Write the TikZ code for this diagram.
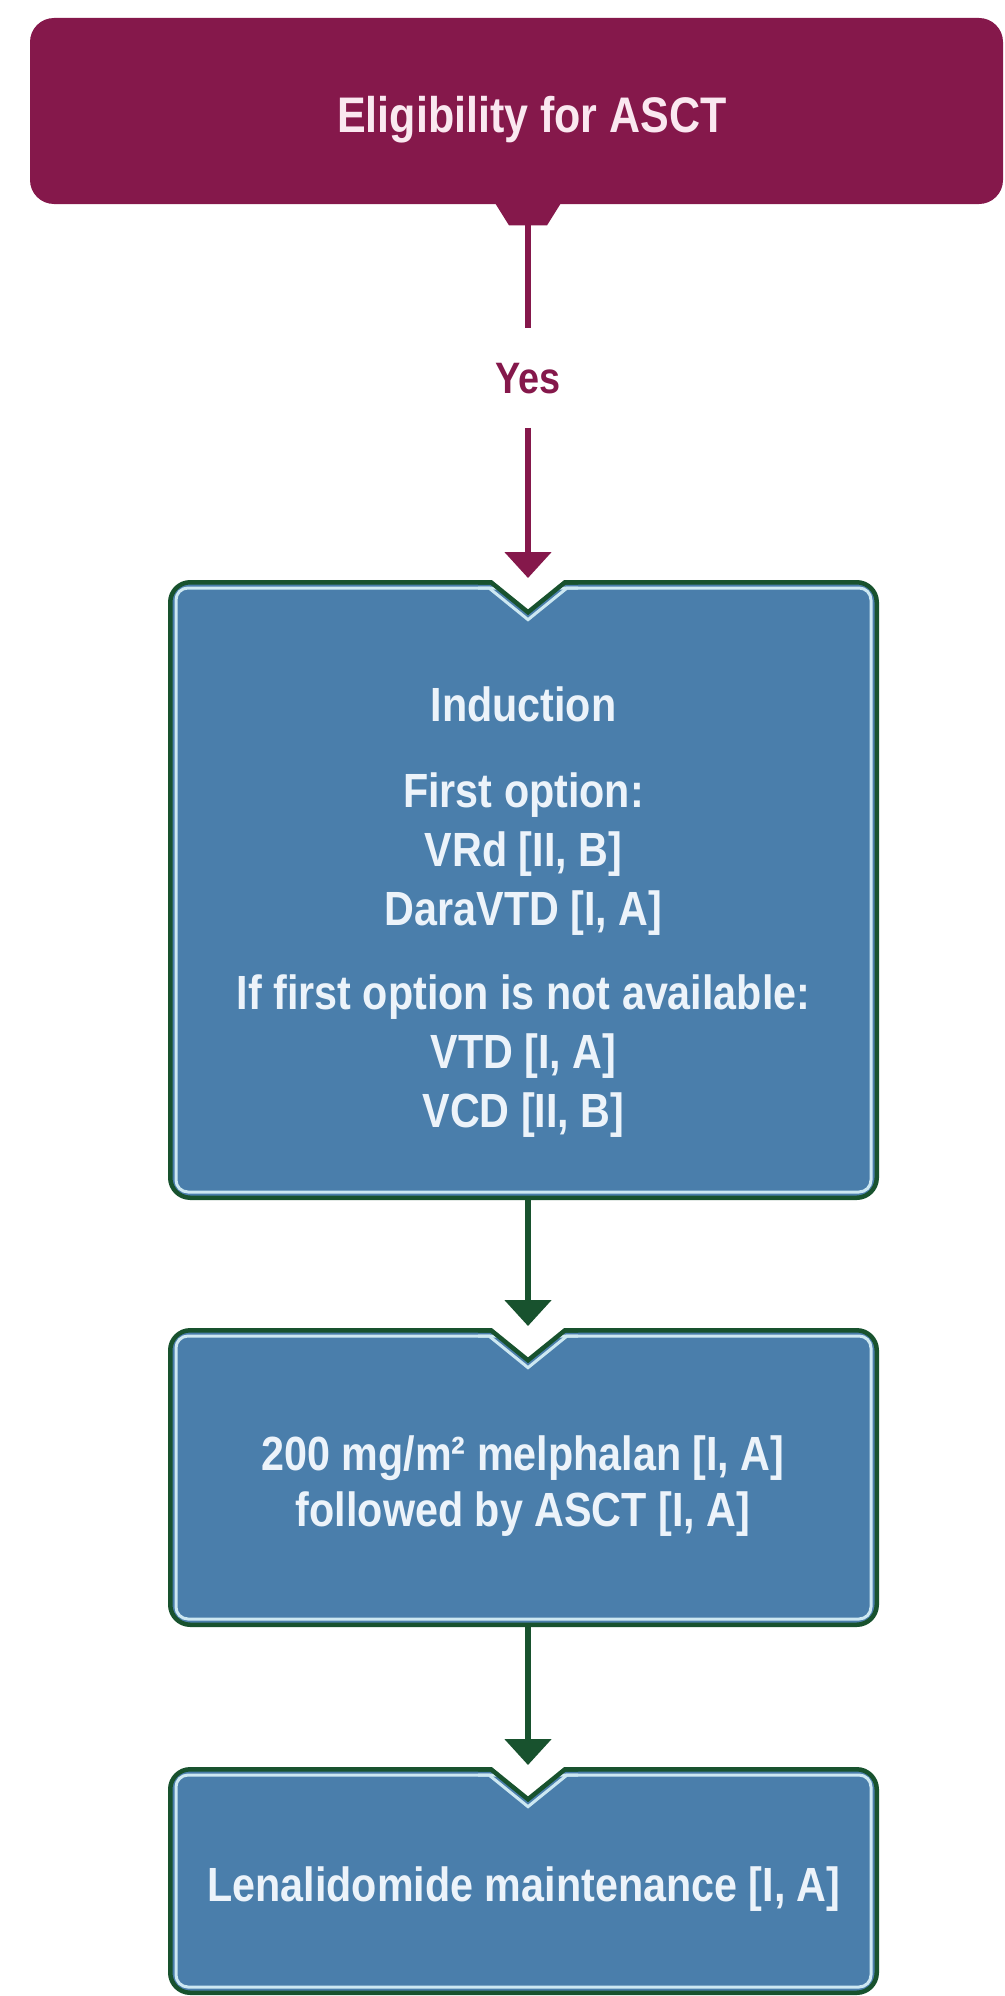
\documentclass[tikz,border=0pt]{standalone}
\usepackage{fontspec}
\newfontfamily\condfont{Liberation Sans}[FakeStretch=0.86]
\usetikzlibrary{arrows.meta}
\definecolor{mroon}{RGB}{133,24,75}
\definecolor{bblue}{RGB}{74,126,171}
\definecolor{bgreen}{RGB}{24,82,46}
\definecolor{ledge}{RGB}{205,232,242}
\definecolor{ltext}{RGB}{236,243,250}
\definecolor{ptext}{RGB}{250,232,240}
\newcommand\notchat[1]{%
  \fill[white] ([shift={(-37,-1)}]#1) -- ([shift={(37,-1)}]#1) -- ([shift={(37,2.25)}]#1) -- ([shift={(0,32.25)}]#1) -- ([shift={(-37,2.25)}]#1) -- cycle;
  \draw[lightline] ([shift={(-50,8)}]#1) -- ([shift={(-39,8)}]#1) -- ([shift={(0,39.65)}]#1) -- ([shift={(39,8)}]#1) -- ([shift={(50,8)}]#1);
  \draw[greenline] ([shift={(-50,2.25)}]#1) -- ([shift={(-37,2.25)}]#1) -- ([shift={(0,32.25)}]#1) -- ([shift={(37,2.25)}]#1) -- ([shift={(50,2.25)}]#1);
}
\begin{document}
\begin{tikzpicture}[x=0.5pt,y=-0.5pt,
  topbox/.style={fill=mroon, rounded corners=12pt, inner sep=0pt, minimum width=486.5pt, minimum height=93pt},
  flowbox/.style={draw=bgreen, line width=2.25pt, fill=bblue, rounded corners=10pt, inner sep=0pt, minimum width=353.25pt},
  lightline/.style={draw=ledge, line width=1.5pt},
  greenline/.style={draw=bgreen, line width=2.25pt, miter limit=20},
  boxtext/.style={text=ltext, font=\condfont\bfseries\fontsize{24}{29.5}\selectfont, align=center, inner sep=0pt, anchor=north},
  toptext/.style={text=ptext, font=\condfont\bfseries\fontsize{25}{30}\selectfont, inner sep=0pt, anchor=base},
  yestext/.style={text=mroon, font=\condfont\bfseries\fontsize{22}{26}\selectfont, inner xsep=0pt, inner ysep=17pt, anchor=base},
  mline/.style={draw=mroon, line width=2.75pt},
  marr/.style={mline, -{Triangle[width=23pt,length=13pt]}, shorten >=1pt},
  garr/.style={draw=bgreen, line width=2.75pt, -{Triangle[width=23pt,length=13pt]}, shorten >=1pt}
]
\useasboundingbox (0,0) rectangle (1005,1996);

% top box
\node[topbox] (elig) at (516.5,111) {};
\node[toptext] (eligtext) at (532,133) {Eligibility for ASCT};
\node[yestext] (yes) at (528,393) {Yes};
\coordinate (t1) at (elig.south -| yes);
\fill[mroon] ([shift={(-34,-3)}]t1) -- ([shift={(34,-3)}]t1) -- ([shift={(19,21)}]t1) -- ([shift={(-19,21)}]t1) -- cycle;
\coordinate (t2) at ([shift={(0,20)}]t1);

% flow boxes
\node[flowbox, minimum height=307.75pt] (ind) at (523.5,890) {};
\node[flowbox, minimum height=147.25pt] (mel) at (523.5,1477.5) {};
\node[flowbox, minimum height=111.75pt] (len) at (523.5,1881) {};
\foreach \b in {ind,mel,len}{
  \draw[lightline, rounded corners=6pt] ([shift={(8,8)}]\b.north west) rectangle ([shift={(-8,-8)}]\b.south east);
}
\coordinate (n1) at (ind.north -| yes);
\coordinate (n2) at (mel.north -| yes);
\coordinate (n3) at (len.north -| yes);
\notchat{n1}
\notchat{n2}
\notchat{n3}

% texts
\node[boxtext] (indtext) at (523.5,686) {Induction\\[13.5pt]First option:\\VRd [II, B]\\DaraVTD [I, A]\\[12.5pt]If first option is not available:\\VTD [I, A]\\VCD [II, B]};
\node[boxtext] (meltext) at (523,1435) {200 mg/m² melphalan [I, A]\\[-1.5pt]followed by ASCT [I, A]};
\node[boxtext] (lentext) at (524,1866) {Lenalidomide maintenance [I, A]};

% connectors
\draw[mline] (t2) -- (yes.north);
\draw[marr] (yes.south) -- (n1);
\draw[garr] (ind.south -| yes) -- (n2);
\draw[garr] (mel.south -| yes) -- (n3);
\end{tikzpicture}
\end{document}
